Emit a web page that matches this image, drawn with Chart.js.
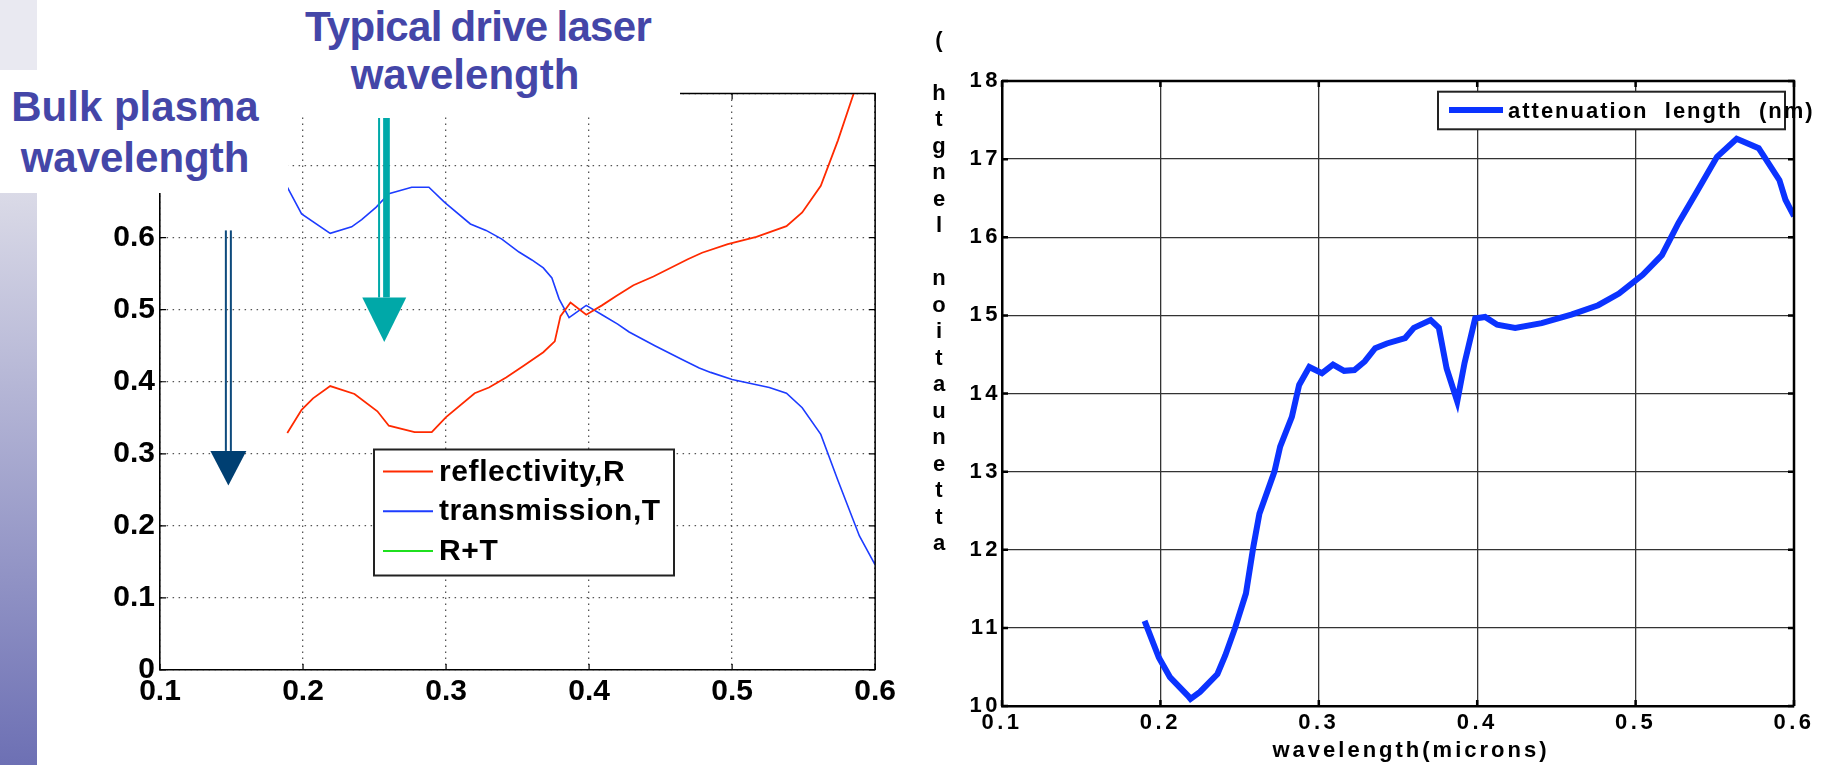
<!DOCTYPE html>
<html>
<head>
<meta charset="utf-8">
<script src="https://cdn.jsdelivr.net/npm/chart.js@4.4.1/dist/chart.umd.min.js"></script>
<style>
  html, body { margin: 0; padding: 0; background: #fff; }
  body { width: 1830px; height: 765px; position: relative; overflow: hidden;
         font-family: "Liberation Sans", Arial, sans-serif; }
  .bar-top { position: absolute; left: 0; top: 0; width: 37px; height: 70px; background: #e9e9f1; }
  .bar { position: absolute; left: 0; top: 193px; width: 37px; height: 572px;
         background: linear-gradient(#dadae7, #6d70b4); }
  #left { position: absolute; left: 0; top: 0; }
  #right { position: absolute; left: 900px; top: 0; }
  .note { position: absolute; background: #fff; color: #4446a8; font-weight: bold;
          font-size: 42px; text-align: center; box-sizing: border-box; }
  #noteDrive { left: 250px; top: 0; width: 430px; height: 115px; line-height: 48px; padding-top: 3px;
               text-indent: 26px; }
  #noteDrive .tight { letter-spacing: -0.7px; word-spacing: -2px; }
  #notePlasma { left: 0; top: 70px; width: 288px; height: 123px; line-height: 51px;
                padding-top: 11px; padding-right: 18px; }
</style>
</head>
<body>
<div class="bar-top"></div>
<div class="bar"></div>
<canvas id="left" width="900" height="765"></canvas>
<canvas id="right" width="930" height="765"></canvas>
<div class="note" id="noteDrive"><span class="tight">Typical drive laser</span><br>wavelength</div>
<div class="note" id="notePlasma">Bulk plasma<br>wavelength</div>

<script>
// reflectivity / transmission vs wavelength (microns)
const rWave = [0.189, 0.199, 0.207, 0.219, 0.236, 0.252, 0.260, 0.278, 0.290, 0.300,
               0.320, 0.330, 0.342, 0.354, 0.368, 0.376, 0.380, 0.387, 0.398, 0.409,
               0.419, 0.431, 0.445, 0.469, 0.479, 0.497, 0.517, 0.538, 0.549, 0.562,
               0.574, 0.585];
const reflectivity = [0.329, 0.361, 0.377, 0.394, 0.383, 0.359, 0.339, 0.330, 0.330, 0.351,
                      0.384, 0.392, 0.406, 0.422, 0.441, 0.456, 0.491, 0.510, 0.493, 0.506,
                      0.519, 0.534, 0.546, 0.570, 0.579, 0.591, 0.601, 0.616, 0.635, 0.672,
                      0.735, 0.800];

const tWave = [0.189, 0.199, 0.219, 0.234, 0.241, 0.251, 0.260, 0.276, 0.288, 0.299,
               0.317, 0.328, 0.339, 0.351, 0.360, 0.368, 0.374, 0.379, 0.386, 0.398,
               0.409, 0.420, 0.428, 0.446, 0.465, 0.477, 0.485, 0.500, 0.526, 0.538,
               0.549, 0.562, 0.574, 0.589, 0.600];
const transmission = [0.670, 0.633, 0.606, 0.615, 0.625, 0.642, 0.661, 0.670, 0.670, 0.649,
                      0.619, 0.610, 0.598, 0.580, 0.569, 0.558, 0.544, 0.515, 0.489, 0.506,
                      0.493, 0.480, 0.469, 0.450, 0.431, 0.419, 0.413, 0.403, 0.392, 0.384,
                      0.364, 0.327, 0.263, 0.186, 0.146];

// R+T sits near 1, above the plotted range
const rtWave = [0.19, 0.60];
const rPlusT = [0.999, 0.999];

// attenuation length (nm) vs wavelength (microns)
const aWave = [0.190, 0.199, 0.206, 0.2174, 0.219, 0.225, 0.236, 0.241, 0.247, 0.254,
               0.2587, 0.2625, 0.272, 0.2756, 0.283, 0.2876, 0.294, 0.302, 0.309, 0.316,
               0.3225, 0.329, 0.3356, 0.343, 0.3545, 0.360, 0.3706, 0.3758, 0.3807, 0.3874,
               0.392, 0.3987, 0.405, 0.4126, 0.424, 0.4407, 0.4594, 0.4764, 0.4895, 0.5045,
               0.5166, 0.527, 0.538, 0.5514, 0.5638, 0.5777, 0.5908, 0.5946, 0.600];
const attenuation = [11.09, 10.62, 10.37, 10.13, 10.09, 10.18, 10.41, 10.65, 10.99, 11.44,
                     12.04, 12.46, 13.00, 13.32, 13.70, 14.11, 14.34, 14.26, 14.37, 14.29,
                     14.30, 14.41, 14.58, 14.64, 14.71, 14.84, 14.94, 14.84, 14.32, 13.90,
                     14.39, 14.96, 14.98, 14.88, 14.84, 14.90, 15.01, 15.13, 15.28, 15.52,
                     15.77, 16.18, 16.56, 17.03, 17.26, 17.14, 16.73, 16.48, 16.27];

// arrows marking the plasma and drive laser wavelengths
const arrowNotes = [
  { x: 0.1478, top: 0.61, headTop: 0.304, tip: 0.256, half: 18,
    shaft: '#0d4a7c', head: '#003f72', lines: [[-2.5, 2], [2.5, 2]] },
  { x: 0.2568, top: 0.766, headTop: 0.517, tip: 0.455, half: 22,
    shaft: '#00a9a9', head: '#00a8a8', lines: [[-5.2, 2], [2.2, 6.7]] }
];

const FONT = '"Liberation Sans", Arial, sans-serif';
Chart.defaults.font.family = FONT;
Chart.defaults.font.weight = 'bold';
Chart.defaults.color = '#000';

const pairs = (xs, ys) => xs.map((x, i) => ({ x: x, y: ys[i] }));

// top/right box edges plus inward tick marks
const frame = {
  id: 'frame',
  afterDatasetsDraw(chart, args, opts) {
    const { ctx, chartArea: a, scales } = chart;
    ctx.save();
    ctx.strokeStyle = opts.color;
    ctx.lineWidth = opts.width;
    ctx.beginPath();
    ctx.moveTo(a.left, a.top);
    ctx.lineTo(a.right, a.top);
    ctx.lineTo(a.right, a.bottom);
    ctx.stroke();
    ctx.lineWidth = opts.tickWidth;
    ctx.beginPath();
    scales.y.ticks.forEach(t => {
      const py = scales.y.getPixelForValue(t.value);
      ctx.moveTo(a.left, py); ctx.lineTo(a.left + opts.tick, py);
      ctx.moveTo(a.right, py); ctx.lineTo(a.right - opts.tick, py);
    });
    scales.x.ticks.forEach(t => {
      const px = scales.x.getPixelForValue(t.value);
      ctx.moveTo(px, a.top); ctx.lineTo(px, a.top + opts.tick);
      ctx.moveTo(px, a.bottom); ctx.lineTo(px, a.bottom - opts.tick);
    });
    ctx.stroke();
    ctx.restore();
  }
};

// boxed legend inside the plot area
const boxLegend = {
  id: 'boxLegend',
  afterDraw(chart, args, opts) {
    const { ctx, chartArea: a } = chart;
    const x0 = a.left + opts.x, y0 = a.top + opts.y;
    ctx.save();
    ctx.letterSpacing = opts.spacing;
    ctx.fillStyle = '#fff';
    ctx.fillRect(x0, y0, opts.w, opts.h);
    ctx.strokeStyle = '#222';
    ctx.lineWidth = 2;
    ctx.strokeRect(x0, y0, opts.w, opts.h);
    ctx.font = 'bold ' + opts.size + 'px ' + FONT;
    ctx.textBaseline = 'alphabetic';
    ctx.textAlign = 'left';
    chart.data.datasets.forEach((ds, i) => {
      const ry = y0 + opts.row0 + i * opts.rowStep;
      ctx.strokeStyle = ds.borderColor;
      ctx.lineWidth = opts.sampleWidth;
      ctx.beginPath();
      ctx.moveTo(x0 + opts.s0, ry);
      ctx.lineTo(x0 + opts.s1, ry);
      ctx.stroke();
      ctx.fillStyle = '#000';
      ctx.fillText(ds.label, x0 + opts.tx, ry + opts.base);
    });
    ctx.restore();
  }
};

const arrows = {
  id: 'arrows',
  afterDatasetsDraw(chart) {
    const { ctx, scales: { x, y } } = chart;
    ctx.save();
    arrowNotes.forEach(n => {
      const cx = x.getPixelForValue(n.x);
      const top = y.getPixelForValue(n.top);
      const headTop = y.getPixelForValue(n.headTop);
      const tip = y.getPixelForValue(n.tip);
      ctx.fillStyle = n.shaft;
      n.lines.forEach(([off, w]) => ctx.fillRect(cx + off - w / 2, top, w, headTop - top));
      ctx.fillStyle = n.head;
      ctx.beginPath();
      ctx.moveTo(cx - n.half, headTop);
      ctx.lineTo(cx + n.half, headTop);
      ctx.lineTo(cx, tip);
      ctx.closePath();
      ctx.fill();
    });
    ctx.restore();
  }
};

// spaced-out lettering on the attenuation plot
const spacedText = {
  id: 'spacedText',
  beforeDraw(chart, args, opts) {
    chart.ctx.letterSpacing = opts.spacing;
  }
};

// stacked y caption and x caption of the attenuation plot
const captions = {
  id: 'captions',
  afterDraw(chart, args, opts) {
    const ctx = chart.ctx;
    ctx.save();
    ctx.font = 'bold 22px ' + FONT;
    ctx.fillStyle = '#000';
    ctx.textAlign = 'center';
    ctx.textBaseline = 'alphabetic';
    ctx.letterSpacing = '3px';
    ctx.fillText(opts.xTitle, opts.xTitleX, opts.xTitleY);
    ctx.letterSpacing = '0px';
    ctx.beginPath();
    ctx.rect(0, opts.clipTop, chart.width, chart.height);
    ctx.clip();
    [...opts.yTitle].forEach((c, i) => {
      ctx.fillText(c, opts.yTitleX, opts.yTitleBase - i * opts.yTitleStep);
    });
    ctx.restore();
  }
};

new Chart(document.getElementById('left'), {
  type: 'scatter',
  data: {
    datasets: [
      { label: 'reflectivity,R', data: pairs(rWave, reflectivity), borderColor: '#ff2a00', borderWidth: 1.8, showLine: true },
      { label: 'transmission,T', data: pairs(tWave, transmission), borderColor: '#1d3cff', borderWidth: 1.6, showLine: true },
      { label: 'R+T', data: pairs(rtWave, rPlusT), borderColor: '#1fe01f', borderWidth: 1.6, showLine: true }
    ]
  },
  options: {
    responsive: false,
    animation: false,
    events: [],
    elements: { point: { radius: 0 }, line: { tension: 0 } },
    layout: { padding: { top: 93.5, right: 8, left: 0, bottom: 0 } },
    plugins: {
      legend: { display: false },
      tooltip: { enabled: false },
      frame: { color: '#000', width: 1.5, tick: 6, tickWidth: 1.2 },
      boxLegend: { x: 214, y: 356, w: 300, h: 126, row0: 22, rowStep: 39.7,
                   s0: 9, s1: 59, tx: 65, base: 9, size: 30, sampleWidth: 2, spacing: '0.6px' }
    },
    scales: {
      x: {
        type: 'linear', min: 0.1, max: 0.6,
        afterFit(s) { s.height = 95; },
        ticks: { stepSize: 0.1, padding: 4, maxRotation: 0, font: { size: 30, weight: 'bold' },
                 callback: v => v.toFixed(1) },
        grid: { color: '#555', lineWidth: 1.3, drawTicks: false },
        border: { color: '#000', width: 1.6, dash: [1.5, 4.5] }
      },
      y: {
        min: 0, max: 0.8,
        afterFit(s) { s.width = 160; },
        ticks: { stepSize: 0.1, padding: 5, font: { size: 30, weight: 'bold' },
                 callback: v => (v === 0 ? '0' : v.toFixed(1)) },
        grid: { color: '#555', lineWidth: 1.3, drawTicks: false },
        border: { color: '#000', width: 1.6, dash: [1.5, 4.5] }
      }
    }
  },
  plugins: [frame, arrows, boxLegend]
});

new Chart(document.getElementById('right'), {
  type: 'scatter',
  data: {
    datasets: [
      { label: 'attenuation  length  (nm)', data: pairs(aWave, attenuation),
        borderColor: '#0b33ff', borderWidth: 6, showLine: true }
    ]
  },
  options: {
    responsive: false,
    animation: false,
    events: [],
    elements: { point: { radius: 0 }, line: { tension: 0 } },
    layout: { padding: { top: 81, right: 36, left: 0, bottom: 0 } },
    plugins: {
      legend: { display: false },
      tooltip: { enabled: false },
      spacedText: { spacing: '3.5px' },
      frame: { color: '#000', width: 2.5, tick: 6, tickWidth: 2.5 },
      boxLegend: { x: 436, y: 10.7, w: 347, h: 37.6, row0: 18.3, rowStep: 0,
                   s0: 11, s1: 65, tx: 70, base: 8, size: 22, sampleWidth: 6, spacing: '2px' },
      captions: { xTitle: 'wavelength(microns)', xTitleX: 511, xTitleY: 757,
                  yTitle: 'attenuation length (nm)', yTitleX: 39, yTitleBase: 550,
                  yTitleStep: 26.5, clipTop: 27 }
    },
    scales: {
      x: {
        type: 'linear', min: 0.1, max: 0.6,
        afterFit(s) { s.height = 59; },
        ticks: { stepSize: 0.1, padding: 4, maxRotation: 0, font: { size: 22, weight: 'bold' },
                 callback: v => v.toFixed(1) },
        grid: { color: '#333', lineWidth: 1.3, drawTicks: false },
        border: { color: '#000', width: 2.5 }
      },
      y: {
        min: 10, max: 18,
        afterFit(s) { s.width = 102; },
        ticks: { stepSize: 1, padding: 1, font: { size: 22, weight: 'bold' },
                 callback: v => String(v) },
        grid: { color: '#333', lineWidth: 1.3, drawTicks: false },
        border: { color: '#000', width: 2.5 }
      }
    }
  },
  plugins: [spacedText, frame, boxLegend, captions]
});
</script>
</body>
</html>
